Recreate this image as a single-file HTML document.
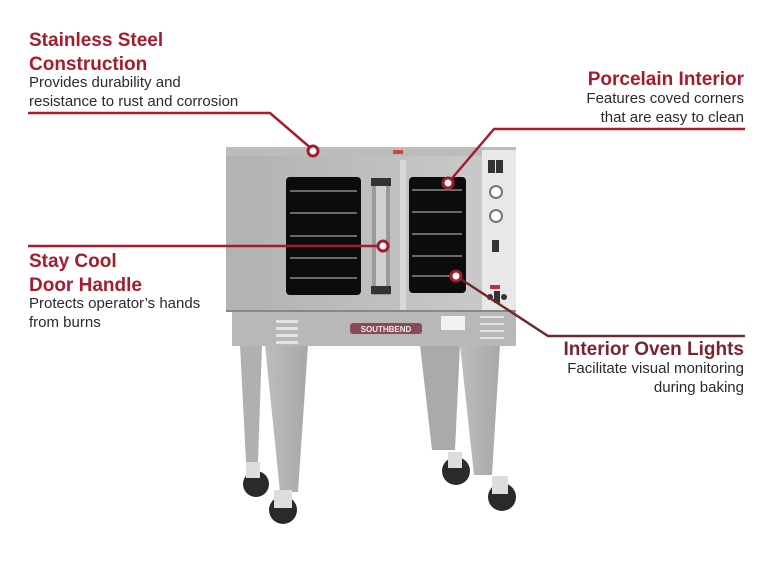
<!DOCTYPE html>
<html><head><meta charset="utf-8"><style>
html,body{margin:0;padding:0;background:#fff;}
body{width:770px;height:565px;position:relative;overflow:hidden;font-family:"Liberation Sans",sans-serif;}
.t{position:absolute;color:#a51c30;font-weight:bold;font-size:19px;line-height:24px;}
.d{position:absolute;color:#2a2a2a;font-size:15px;line-height:19px;}
.r{text-align:right;}
</style></head><body>
<svg width="770" height="565" style="position:absolute;left:0;top:0">
<defs>
<linearGradient id="g1" x1="0" x2="1"><stop offset="0" stop-color="#b4b4b4"/><stop offset="1" stop-color="#c9c9c9"/></linearGradient>
<linearGradient id="lg" x1="0" x2="1"><stop offset="0" stop-color="#bdbdbd"/><stop offset="1" stop-color="#a8a8a8"/></linearGradient>
</defs>
<polygon points="240,345 262,345 258,462 246,462" fill="#b0b0b0"/>
<polygon points="420,345 460,345 455,450 432,450" fill="#aaaaaa"/>
<polygon points="265,345 308,345 298,492 280,492" fill="url(#lg)"/>
<polygon points="460,345 500,345 492,475 474,475" fill="url(#lg)"/>
<g fill="#2a2a2a">
<circle cx="256" cy="484" r="13"/><circle cx="283" cy="510" r="14"/>
<circle cx="456" cy="471" r="14"/><circle cx="502" cy="497" r="14"/>
</g>
<g fill="#ddd">
<rect x="246" y="462" width="14" height="16"/><rect x="274" y="490" width="18" height="18"/>
<rect x="448" y="452" width="14" height="16"/><rect x="492" y="476" width="16" height="18"/>
</g>
<rect x="226" y="147" width="290" height="10" fill="#bcbcbc"/>
<rect x="393" y="150" width="10" height="4" fill="#c44"/>
<rect x="226" y="156" width="36" height="156" fill="#b3b3b3"/>
<rect x="262" y="156" width="220" height="156" fill="url(#g1)"/>
<rect x="400" y="160" width="6" height="150" fill="#d8d8d8"/>
<rect x="482" y="150" width="34" height="162" fill="#e8e8e8"/>
<rect x="488" y="160" width="7" height="13" fill="#333"/><rect x="496" y="160" width="7" height="13" fill="#333"/>
<circle cx="496" cy="192" r="6" fill="#fff" stroke="#777" stroke-width="2"/>
<circle cx="496" cy="216" r="6" fill="#fff" stroke="#777" stroke-width="2"/>
<rect x="492" y="240" width="7" height="12" fill="#333"/>
<circle cx="490" cy="297" r="3" fill="#333"/><rect x="494" y="291" width="6" height="12" fill="#333"/><circle cx="504" cy="297" r="3" fill="#333"/>
<rect x="490" y="285" width="10" height="4" fill="#b33"/>
<rect x="286" y="177" width="75" height="118" rx="4" fill="#0c0c0c"/>
<rect x="409" y="177" width="57" height="116" rx="4" fill="#0c0c0c"/>
<g stroke="#888" stroke-width="1.5">
<line x1="290" y1="191" x2="357" y2="191"/><line x1="290" y1="213" x2="357" y2="213"/><line x1="290" y1="236" x2="357" y2="236"/><line x1="290" y1="258" x2="357" y2="258"/><line x1="290" y1="278" x2="357" y2="278"/>
<line x1="412" y1="190" x2="462" y2="190"/><line x1="412" y1="212" x2="462" y2="212"/><line x1="412" y1="234" x2="462" y2="234"/><line x1="412" y1="256" x2="462" y2="256"/><line x1="412" y1="276" x2="462" y2="276"/>
</g>
<rect x="372" y="178" width="18" height="117" fill="#9a9a9a"/>
<rect x="376" y="186" width="10" height="100" fill="#d0d0d0"/>
<rect x="371" y="178" width="20" height="8" fill="#333"/><rect x="371" y="286" width="20" height="8" fill="#333"/>
<rect x="226" y="310" width="290" height="2" fill="#888"/>
<rect x="232" y="312" width="284" height="34" fill="#b8b8b8"/>
<g fill="#e4e4e4"><rect x="276" y="320" width="22" height="3"/><rect x="276" y="327" width="22" height="3"/><rect x="276" y="334" width="22" height="3"/><rect x="276" y="341" width="22" height="3"/>
<rect x="480" y="316" width="24" height="2"/><rect x="480" y="323" width="24" height="2"/><rect x="480" y="330" width="24" height="2"/><rect x="480" y="337" width="24" height="2"/></g>
<rect x="350" y="323" width="72" height="11" rx="3" fill="#8a4a55"/>
<text x="386" y="332" font-size="8" fill="#eee" text-anchor="middle" font-family="Liberation Sans" font-weight="bold">SOUTHBEND</text>
<rect x="441" y="316" width="24" height="14" fill="#f2f2f2"/>
<g fill="none" stroke-width="2.5">
<polyline points="28,113 270,113 313,150" stroke="#a51c30"/>
<polyline points="745,129 494,129 448,183" stroke="#a51c30"/>
<polyline points="28,246 383,246" stroke="#a51c30"/>
<polyline points="456,276 548,336 745,336" stroke="#6e2a2a"/>
</g>
<g fill="#fff" stroke="#a51c30" stroke-width="3">
<circle cx="313" cy="151" r="5"/><circle cx="448" cy="183" r="5"/><circle cx="383" cy="246" r="5"/><circle cx="456" cy="276" r="5"/>
</g>
</svg>
<div class="t" style="left:29px;top:29px">Stainless Steel<br>Construction</div>
<div class="d" style="left:29px;top:73px">Provides durability and<br>resistance to rust and corrosion</div>
<div class="t r" style="right:26px;top:68px">Porcelain Interior</div>
<div class="d r" style="right:26px;top:89px">Features coved corners<br>that are easy to clean</div>
<div class="t" style="left:29px;top:250px">Stay Cool<br>Door Handle</div>
<div class="d" style="left:29px;top:294px">Protects operator’s hands<br>from burns</div>
<div class="t r" style="right:26px;top:338px;color:#7a2630">Interior Oven Lights</div>
<div class="d r" style="right:26px;top:359px">Facilitate visual monitoring<br>during baking</div>
</body></html>
